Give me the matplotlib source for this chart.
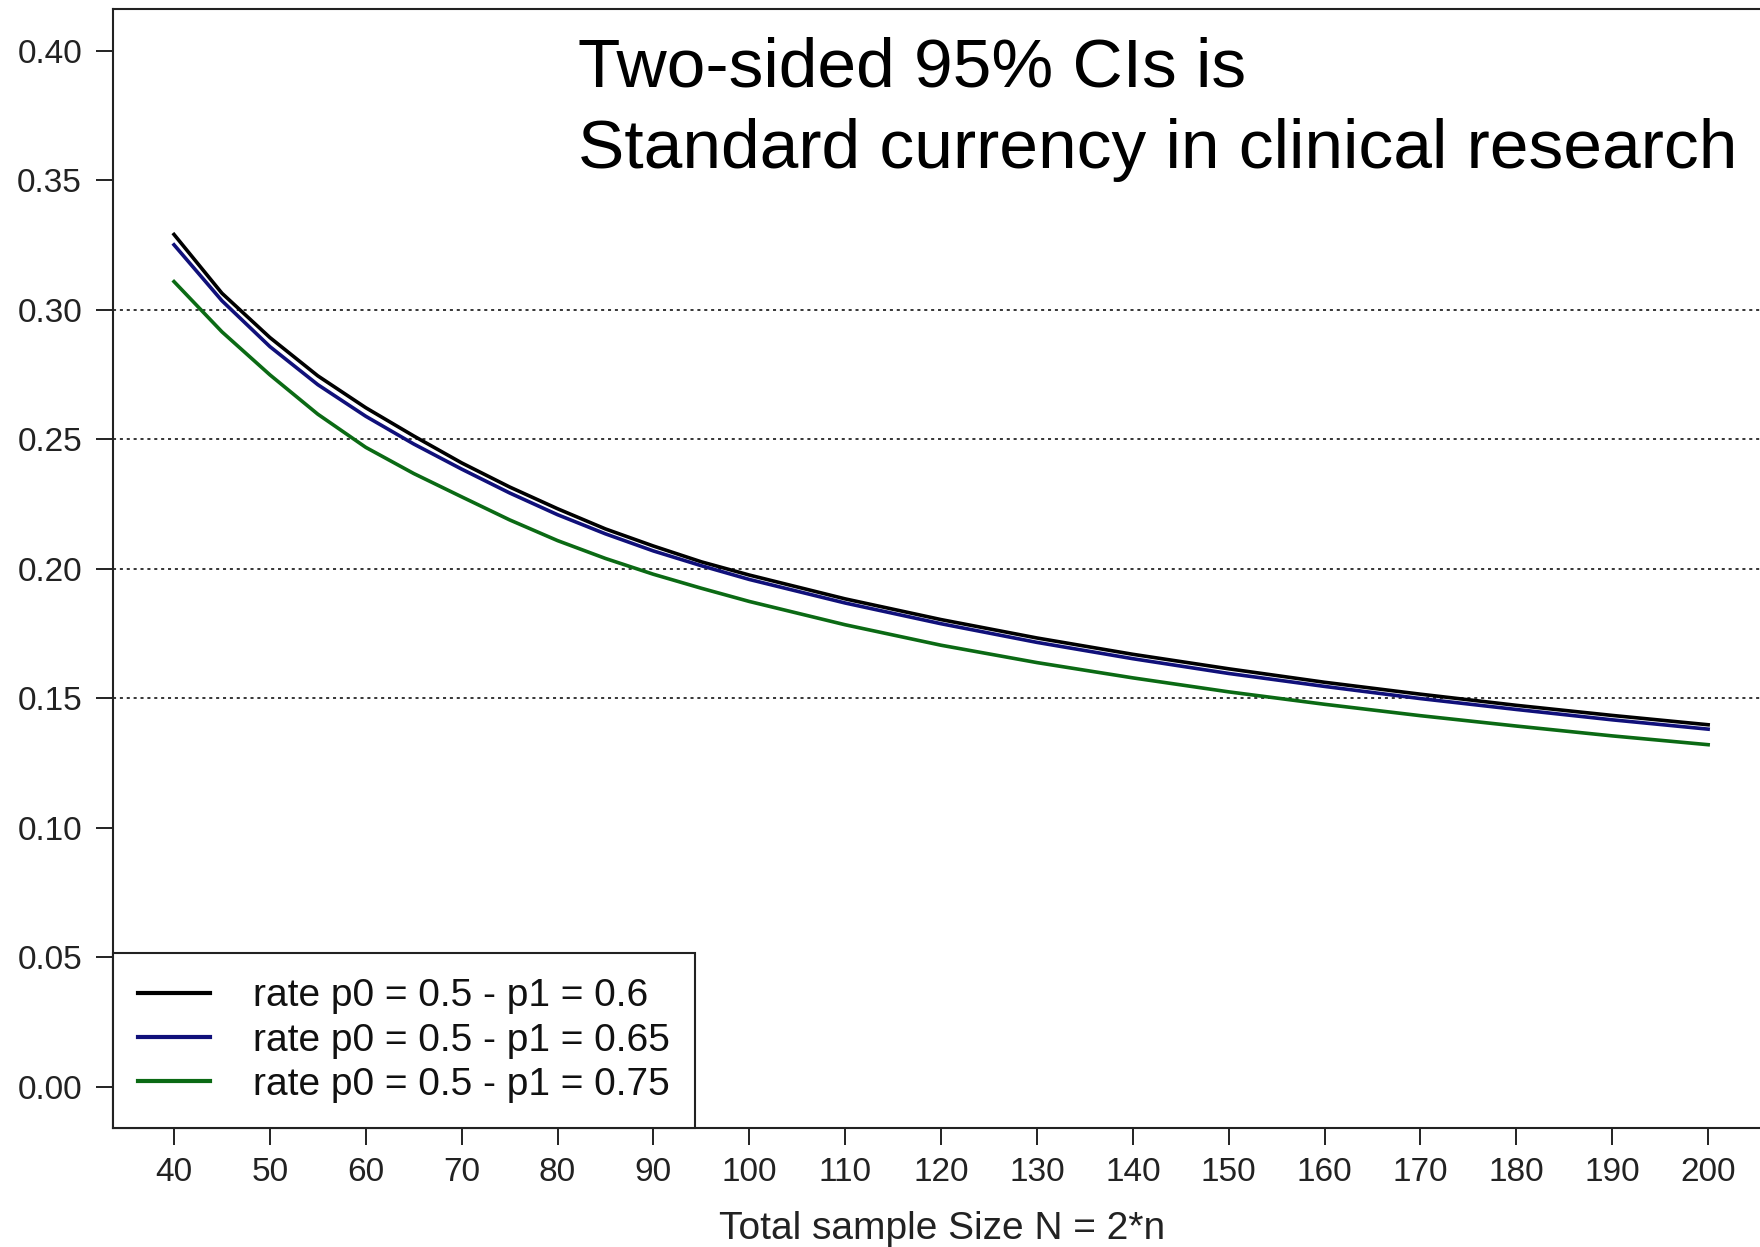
import matplotlib
matplotlib.use("Agg")
import matplotlib.pyplot as plt

plt.rcParams["font.family"] = ["Liberation Sans", "DejaVu Sans"]

# Total sample size N = 2*n
sample_size = [40, 45, 50, 55, 60, 65, 70, 75, 80, 85, 90, 95, 100,
               110, 120, 130, 140, 150, 160, 170, 180, 190, 200]

# CI width for each pair of rates
width_p1_060 = [0.329, 0.3063, 0.2892, 0.2744, 0.2621, 0.2512, 0.2408, 0.2315,
                0.2231, 0.2153, 0.2087, 0.2026, 0.1975, 0.1883, 0.1803, 0.1732,
                0.1669, 0.1613, 0.1561, 0.1515, 0.1472, 0.1433, 0.1397]
width_p1_065 = [0.325, 0.3034, 0.2857, 0.2710, 0.2588, 0.2481, 0.2384, 0.2292,
                0.2208, 0.2134, 0.2068, 0.2011, 0.1958, 0.1867, 0.1787, 0.1715,
                0.1652, 0.1595, 0.1545, 0.1498, 0.1456, 0.1416, 0.1380]
width_p1_075 = [0.3108, 0.2914, 0.2748, 0.2596, 0.2468, 0.2367, 0.2277, 0.2188,
                0.2108, 0.2039, 0.1978, 0.1924, 0.1873, 0.1783, 0.1704, 0.1637,
                0.1578, 0.1524, 0.1476, 0.1432, 0.1392, 0.1354, 0.1320]

series_labels = ["rate p0 = 0.5 - p1 = 0.6",
                 "rate p0 = 0.5 - p1 = 0.65",
                 "rate p0 = 0.5 - p1 = 0.75"]
series_colors = ["#000000", "#10107a", "#0b6a14"]

reference_lines = [0.15, 0.20, 0.25, 0.30]
x_ticks = list(range(40, 201, 10))
y_ticks = [0.00, 0.05, 0.10, 0.15, 0.20, 0.25, 0.30, 0.35, 0.40]

fig = plt.figure(figsize=(17.6, 12.47), dpi=100)
ax = fig.add_axes([0.064, 0.0954, 0.9414, 0.8973])

for yv in reference_lines:
    ax.axhline(yv, color="black", lw=1.1, linestyle=(0, (2, 2.5)), zorder=1)

for ys, lab, col in zip([width_p1_060, width_p1_065, width_p1_075],
                        series_labels, series_colors):
    ax.plot(sample_size, ys, color=col, lw=2.6, label=lab, zorder=3)

ax.set_xlim(33.6, 206.4)
ax.set_ylim(-0.016, 0.416)
ax.set_xticks(x_ticks)
ax.set_xticklabels([str(v) for v in x_ticks])
ax.set_yticks(y_ticks)
ax.set_yticklabels([f"{v:.2f}" for v in y_ticks])
ax.tick_params(axis="both", labelsize=24, length=12, width=1.4,
               direction="out", color="#222222", labelcolor="#222222")
ax.tick_params(axis="y", pad=10)
ax.tick_params(axis="x", pad=9)
for side in ["left", "top", "bottom", "right"]:
    ax.spines[side].set_linewidth(1.5)
    ax.spines[side].set_color("#222222")

leg = ax.legend(loc="lower left", bbox_to_anchor=(0, 0), borderaxespad=0,
                fontsize=28, frameon=True, fancybox=False, edgecolor="#222222",
                handlelength=1.85, handletextpad=1.1, labelspacing=0.21,
                borderpad=0.65)
leg.get_frame().set_linewidth(1.5)
leg.get_frame().set_alpha(1)
for line in leg.get_lines():
    line.set_linewidth(3)
for t in leg.get_texts():
    t.set_color("#111111")

fig.text(0.5355, 0.0064, "Total sample Size N = 2*n", ha="center",
         va="baseline", fontsize=28, color="#222222")

fig.text(0.3284, 0.9307, "Two-sided 95% CIs is", ha="left", va="baseline",
         fontsize=50, color="black")
fig.text(0.3284, 0.8653, "Standard currency in clinical research", ha="left",
         va="baseline", fontsize=50, color="black")

fig.savefig("out.png", dpi=100)
